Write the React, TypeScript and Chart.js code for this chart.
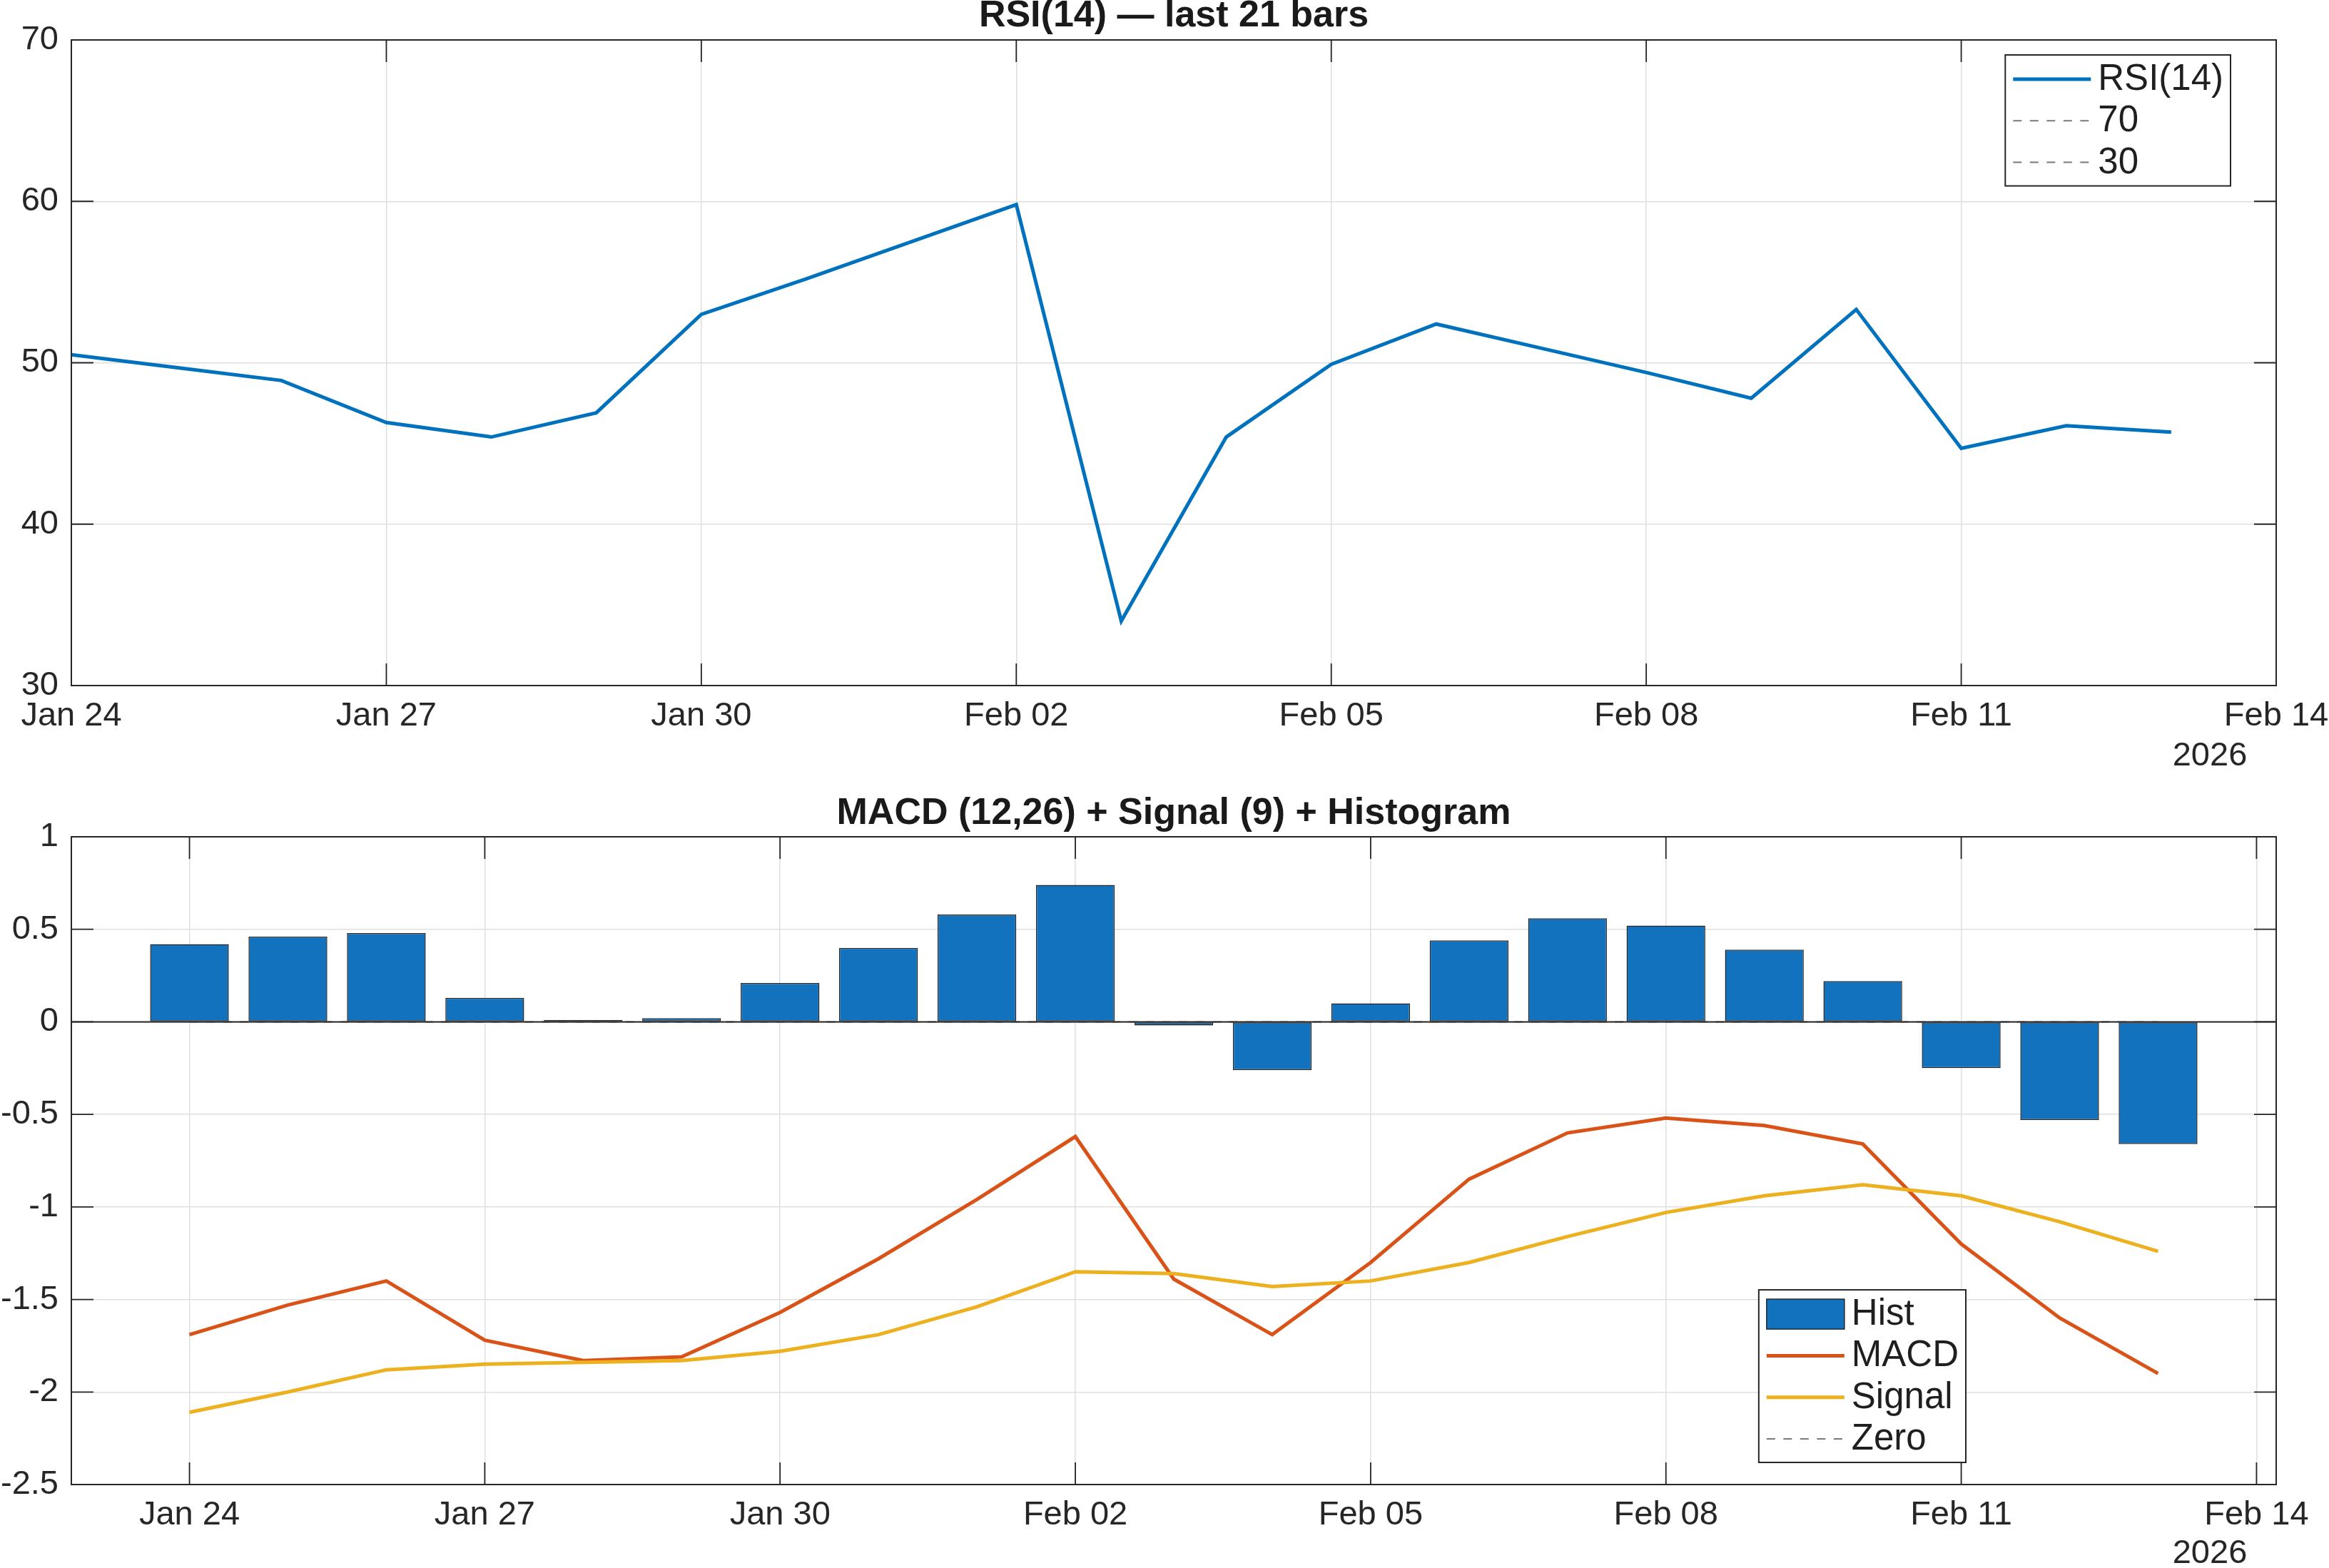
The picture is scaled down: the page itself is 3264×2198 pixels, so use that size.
import React, { useEffect, useRef } from 'react';
import { Chart, registerables } from 'chart.js';

Chart.register(...registerables);

// ---- data -------------------------------------------------------------
const dates = [
  '2026-01-24', '2026-01-25', '2026-01-26', '2026-01-27', '2026-01-28', '2026-01-29', '2026-01-30',
  '2026-01-31', '2026-02-01', '2026-02-02', '2026-02-03', '2026-02-04', '2026-02-05', '2026-02-06',
  '2026-02-07', '2026-02-08', '2026-02-09', '2026-02-10', '2026-02-11', '2026-02-12', '2026-02-13',
];

const rsi = [
  50.5, 49.7, 48.9, 46.3, 45.4, 46.9, 53.0, 55.2, 57.5, 59.8, 34.0,
  45.4, 49.9, 52.4, 50.9, 49.4, 47.8, 53.3, 44.7, 46.1, 45.7,
];
const rsiLevels = [70, 30];

const macd = [
  -1.69, -1.53, -1.40, -1.72, -1.83, -1.81, -1.57, -1.28, -0.96, -0.62, -1.39,
  -1.69, -1.30, -0.85, -0.60, -0.52, -0.56, -0.66, -1.20, -1.60, -1.90,
];
const signal = [
  -2.11, -2.00, -1.88, -1.85, -1.84, -1.83, -1.78, -1.69, -1.54, -1.35, -1.36,
  -1.43, -1.40, -1.30, -1.16, -1.03, -0.94, -0.88, -0.94, -1.08, -1.24,
];
const hist = [
  0.42, 0.46, 0.48, 0.13, 0.01, 0.02, 0.21, 0.40, 0.58, 0.74, -0.02,
  -0.26, 0.10, 0.44, 0.56, 0.52, 0.39, 0.22, -0.25, -0.53, -0.66,
];

const xTickDates = ['2026-01-24', '2026-01-27', '2026-01-30', '2026-02-02', '2026-02-05', '2026-02-08', '2026-02-11', '2026-02-14'];
const xTickLabels = ['Jan 24', 'Jan 27', 'Jan 30', 'Feb 02', 'Feb 05', 'Feb 08', 'Feb 11', 'Feb 14'];
const yearLabel = '2026';

const rsiTicks = [30, 40, 50, 60, 70];
const macdTicks = [-2.5, -2, -1.5, -1, -0.5, 0, 0.5, 1];
const macdTickLabels = ['-2.5', '-2', '-1.5', '-1', '-0.5', '0', '0.5', '1'];

const rsiTitle = 'RSI(14) \u2014 last 21 bars';
const macdTitle = 'MACD (12,26) + Signal (9) + Histogram';

// ---- styling ----------------------------------------------------------
const FONT = "'Liberation Sans', Arial, Helvetica, sans-serif";
const AXIS_COLOR = '#262626';
const GRID_COLOR = '#dfdfdf';
const BLUE = '#0072BD';
const BAR_BLUE = '#1372BE';
const ORANGE = '#D95319';
const YELLOW = '#EDB120';
const DASH_GRAY = '#7a7a7a';
const TICK_FONT = 47;
const LEGEND_FONT = 51;
const TITLE_FONT = 52;
const TICK_LEN = 31;
const LINE_W = 5;

const W = 3264;
const TOP_H = 1090;
const BOTTOM_H = 1108;

const DAY = 86400000;
const dayOf = (iso: string) => (Date.parse(iso) - Date.parse(dates[0])) / DAY;
const xy = (vals: number[]) => dates.map((d, i) => ({ x: dayOf(d), y: vals[i] }));
const flat = (v: number) => dates.map((d) => ({ x: dayOf(d), y: v }));

// Axes box, inward tick marks, title, legend and year label (MATLAB look)
const framePlugin = {
  id: 'frame',
  afterDatasetsDraw(chart: any, _args: any, opts: any) {
    const { ctx, chartArea: a, scales } = chart;
    const xs = scales.x;
    const ys = scales.y;
    ctx.save();
    if (opts.baseline) {
      const py = ys.getPixelForValue(0);
      ctx.strokeStyle = AXIS_COLOR;
      ctx.lineWidth = 2;
      ctx.beginPath();
      ctx.moveTo(a.left, py);
      ctx.lineTo(a.right, py);
      ctx.stroke();
    }
    ctx.strokeStyle = AXIS_COLOR;
    ctx.lineWidth = 1.8;
    ctx.beginPath();
    for (const t of xs.ticks) {
      const px = xs.getPixelForValue(t.value);
      ctx.moveTo(px, a.bottom);
      ctx.lineTo(px, a.bottom - TICK_LEN);
      ctx.moveTo(px, a.top);
      ctx.lineTo(px, a.top + TICK_LEN);
    }
    for (const t of ys.ticks) {
      const py = ys.getPixelForValue(t.value);
      ctx.moveTo(a.left, py);
      ctx.lineTo(a.left + TICK_LEN, py);
      ctx.moveTo(a.right, py);
      ctx.lineTo(a.right - TICK_LEN, py);
    }
    ctx.stroke();
    ctx.lineWidth = 2;
    ctx.strokeRect(a.left, a.top, a.right - a.left, a.bottom - a.top);
    ctx.restore();
  },
  afterDraw(chart: any, _args: any, opts: any) {
    const { ctx, chartArea: a } = chart;
    ctx.save();
    // title
    ctx.fillStyle = '#1a1a1a';
    ctx.font = `bold ${TITLE_FONT}px ${FONT}`;
    ctx.textAlign = 'center';
    ctx.textBaseline = 'middle';
    ctx.fillText(opts.title, (a.left + a.right) / 2, a.top - opts.titleGap);
    // year under the last date tick
    ctx.font = `${TICK_FONT}px ${FONT}`;
    ctx.fillStyle = AXIS_COLOR;
    ctx.fillText(yearLabel, a.right - 93, a.bottom + opts.yearGap);

    // legend
    const items = chart.data.datasets;
    ctx.font = `${LEGEND_FONT}px ${FONT}`;
    const textW = Math.max(...items.map((d: any) => ctx.measureText(d.label).width));
    const rowH = 58.3;
    const w = 130 + textW + 10;
    const h = 67 + (items.length - 1) * rowH;
    const L = opts.legend;
    const bx = a.right - L.right - w;
    const by = L.top !== undefined ? a.top + L.top : a.bottom - L.bottom - h;
    ctx.fillStyle = '#ffffff';
    ctx.fillRect(bx, by, w, h);
    ctx.strokeStyle = AXIS_COLOR;
    ctx.lineWidth = 2;
    ctx.strokeRect(bx, by, w, h);
    items.forEach((d: any, i: number) => {
      const cy = by + 34 + i * rowH;
      if (d.type === 'bar') {
        ctx.fillStyle = d.backgroundColor;
        ctx.fillRect(bx + 11, cy - 21, 109, 42);
        ctx.strokeStyle = d.borderColor;
        ctx.lineWidth = 1.5;
        ctx.strokeRect(bx + 11, cy - 21, 109, 42);
      } else {
        ctx.strokeStyle = d.borderColor;
        ctx.lineWidth = d.borderWidth;
        ctx.setLineDash(d.borderDash || []);
        ctx.beginPath();
        ctx.moveTo(bx + 11, cy);
        ctx.lineTo(bx + 120, cy);
        ctx.stroke();
        ctx.setLineDash([]);
      }
      ctx.fillStyle = '#1f1f1f';
      ctx.textAlign = 'left';
      ctx.textBaseline = 'middle';
      ctx.fillText(d.label, bx + 130, cy + 1);
    });
    ctx.restore();
  },
};

function xScale(min: number, max: number) {
  return {
    type: 'linear',
    min,
    max,
    offset: false,
    afterBuildTicks: (s: any) => {
      s.ticks = xTickDates.map((d) => ({ value: dayOf(d) }));
    },
    afterFit: (s: any) => {
      s.height = s.chart.height - (s.chart.options.layout.padding.top + s.chart.options.plotHeight);
      s.paddingLeft = 0;
      s.paddingRight = 0;
    },
    grid: { color: GRID_COLOR, lineWidth: 1.5, drawTicks: false, offset: false },
    border: { display: false },
    ticks: {
      autoSkip: false,
      maxRotation: 0,
      padding: 15,
      color: AXIS_COLOR,
      font: { family: FONT, size: TICK_FONT },
      callback: (_v: any, i: number) => xTickLabels[i],
    },
  };
}

function yScale(min: number, max: number, values: number[], labels: string[]) {
  return {
    type: 'linear',
    min,
    max,
    afterBuildTicks: (s: any) => {
      s.ticks = values.map((v) => ({ value: v }));
    },
    afterFit: (s: any) => {
      s.width = 100;
      s.paddingTop = 0;
      s.paddingBottom = 0;
    },
    grid: { color: GRID_COLOR, lineWidth: 1.5, drawTicks: false },
    border: { display: false },
    ticks: {
      padding: 18,
      color: AXIS_COLOR,
      font: { family: FONT, size: TICK_FONT },
      callback: (_v: any, i: number) => labels[i],
    },
  };
}

function rsiConfig(): any {
  return {
    type: 'line',
    data: {
      datasets: [
        { type: 'line', label: 'RSI(14)', data: xy(rsi), borderColor: BLUE, borderWidth: LINE_W, pointRadius: 0, tension: 0, order: 2 },
        ...rsiLevels.map((lv) => ({
          type: 'line', label: String(lv), data: flat(lv), borderColor: DASH_GRAY, borderWidth: 2,
          borderDash: [12, 11.5], pointRadius: 0, order: 1,
        })),
      ],
    },
    options: {
      responsive: false,
      animation: false,
      devicePixelRatio: 1,
      plotHeight: 905,
      layout: { padding: { left: 0, top: 56, right: 74, bottom: 0 } },
      plugins: {
        legend: { display: false },
        title: { display: false },
        tooltip: { enabled: false },
        frame: { title: rsiTitle, titleGap: 33, yearGap: 99, legend: { right: 64, top: 21 } },
      },
      scales: {
        x: xScale(0, dayOf('2026-02-14')),
        y: yScale(30, 70, rsiTicks, rsiTicks.map(String)),
      },
    },
    plugins: [framePlugin],
  };
}

function macdConfig(): any {
  return {
    type: 'bar',
    data: {
      datasets: [
        {
          type: 'bar', label: 'Hist', data: xy(hist), backgroundColor: BAR_BLUE, borderColor: AXIS_COLOR,
          borderWidth: 1.5, borderSkipped: false, barPercentage: 0.8, categoryPercentage: 1, order: 4,
        },
        { type: 'line', label: 'MACD', data: xy(macd), borderColor: ORANGE, borderWidth: LINE_W, pointRadius: 0, tension: 0, order: 2 },
        { type: 'line', label: 'Signal', data: xy(signal), borderColor: YELLOW, borderWidth: LINE_W, pointRadius: 0, tension: 0, order: 1 },
        { type: 'line', label: 'Zero', data: flat(0), borderColor: DASH_GRAY, borderWidth: 2, borderDash: [12, 11.5], pointRadius: 0, order: 0 },
      ],
    },
    options: {
      responsive: false,
      animation: false,
      devicePixelRatio: 1,
      plotHeight: 908,
      layout: { padding: { left: 0, top: 83, right: 74, bottom: 0 } },
      plugins: {
        legend: { display: false },
        title: { display: false },
        tooltip: { enabled: false },
        frame: { title: macdTitle, titleGap: 32, yearGap: 97, baseline: true, legend: { right: 435, bottom: 31 } },
      },
      scales: {
        x: xScale(-1.2, dayOf('2026-02-14') + 0.2),
        y: yScale(-2.5, 1, macdTicks, macdTickLabels),
      },
    },
    plugins: [framePlugin],
  };
}

function Panel({ make, top, height }: { make: () => any; top: number; height: number }) {
  const ref = useRef<HTMLCanvasElement>(null);
  useEffect(() => {
    const chart = new Chart(ref.current as HTMLCanvasElement, make());
    return () => chart.destroy();
  }, [make]);
  return (
    <canvas
      ref={ref}
      width={W}
      height={height}
      style={{ position: 'absolute', left: 0, top, width: W, height, display: 'block' }}
    />
  );
}

export default function App() {
  return (
    <div style={{ position: 'fixed', left: 0, top: 0, width: W, height: TOP_H + BOTTOM_H, background: '#ffffff', overflow: 'hidden' }}>
      <Panel make={rsiConfig} top={0} height={TOP_H} />
      <Panel make={macdConfig} top={TOP_H} height={BOTTOM_H} />
    </div>
  );
}
